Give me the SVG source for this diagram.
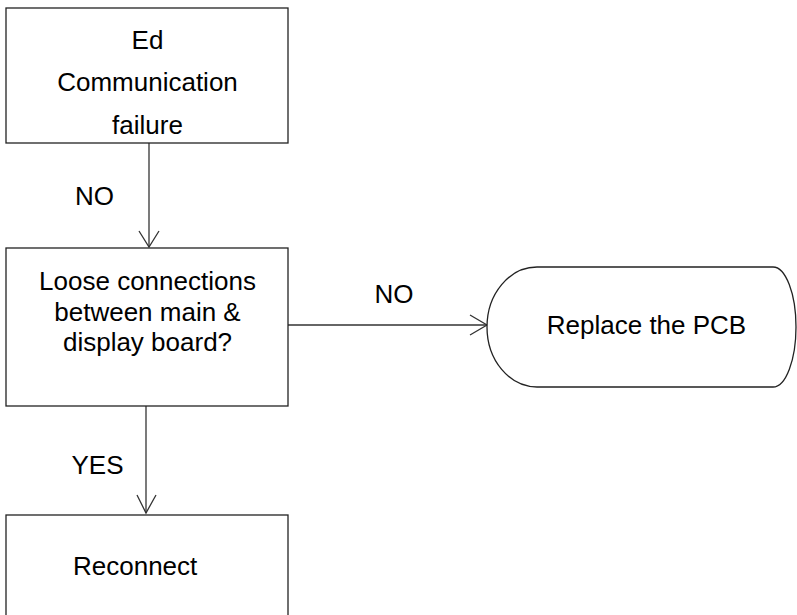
<svg xmlns="http://www.w3.org/2000/svg" width="797" height="615" viewBox="0 0 797 615">
<style>
.box{fill:#fff;stroke:#222;stroke-width:1.3}
.edge{fill:none;stroke:#333;stroke-width:1.3}
.head{fill:none;stroke:#333;stroke-width:1.3}
text{font-family:"Liberation Sans",Arial,sans-serif;font-size:26px;fill:#000}
.c{text-anchor:middle}
</style>
<rect width="797" height="615" fill="#fff"/>
<g id="connectors">
<line class="edge" x1="149" y1="143" x2="149" y2="247"/>
<polyline class="head" points="139,231 149,247 159,231"/>
<line class="edge" x1="288" y1="325" x2="487" y2="325"/>
<polyline class="head" points="470,315 487,325 470,335"/>
<line class="edge" x1="146" y1="406" x2="146" y2="513"/>
<polyline class="head" points="137,495 146,513 156,495"/>
<text x="94.5" y="205" class="c">NO</text>
<text x="394" y="303" class="c">NO</text>
<text x="97.5" y="474" class="c">YES</text>
</g>
<g id="n1">
<rect class="box" x="6" y="8" width="282" height="135"/>
<text x="147.5" y="49" class="c">Ed</text>
<text x="147.5" y="91" class="c">Communication</text>
<text x="147.5" y="134" class="c">failure</text>
</g>
<g id="n2">
<rect class="box" x="6" y="248" width="282" height="158"/>
<text x="147.5" y="290" class="c">Loose connections</text>
<text x="147.5" y="321" class="c">between main &amp;</text>
<text x="147.5" y="351" class="c">display board?</text>
</g>
<g id="n3">
<path class="box" d="M537 267 H773 A23 60 0 0 1 773 387 H537 A50 60 0 0 1 537 267 Z"/>
<text x="646.5" y="334" class="c">Replace the PCB</text>
</g>
<g id="n4">
<rect class="box" x="6" y="515" width="282" height="110"/>
<text x="73" y="575">Reconnect</text>
</g>
</svg>
